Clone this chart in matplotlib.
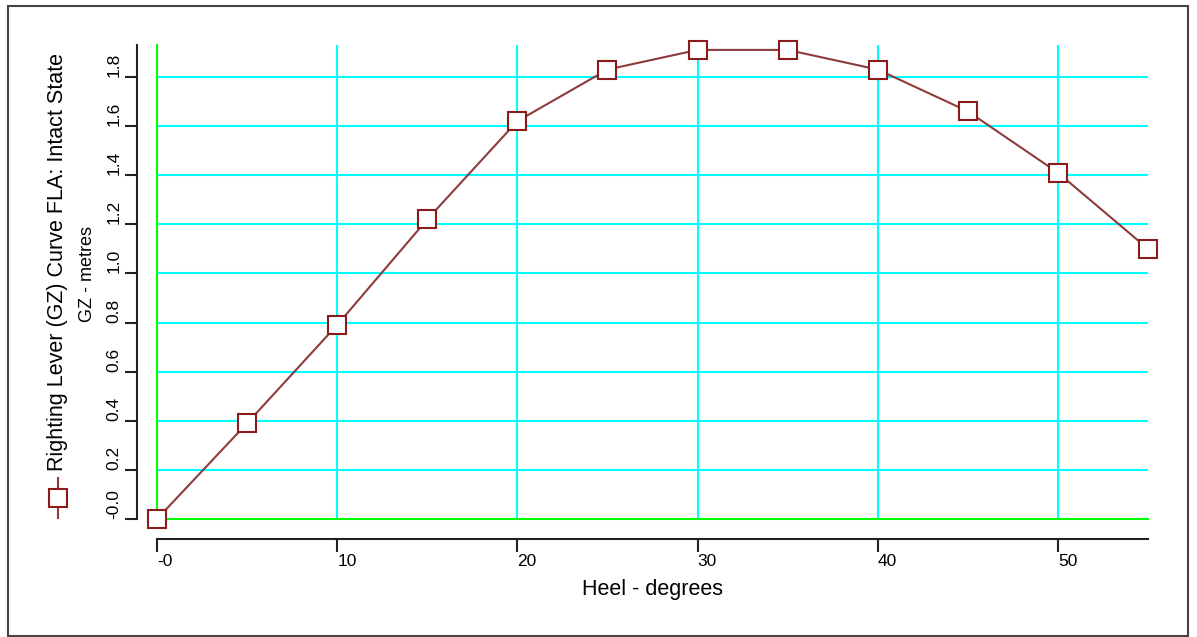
import matplotlib
matplotlib.use("Agg")
import matplotlib.pyplot as plt
from matplotlib.lines import Line2D
from matplotlib.patches import Rectangle

plt.rcParams['font.family'] = ['Liberation Sans', 'DejaVu Sans']

# --- data ---
heel = [0, 5, 10, 15, 20, 25, 30, 35, 40, 45, 50, 55]
gz = [0.0, 0.39, 0.79, 1.22, 1.62, 1.83, 1.91, 1.91, 1.83, 1.66, 1.41, 1.10]
xticks = [0, 10, 20, 30, 40, 50]
xticklabels = ['-0', '10', '20', '30', '40', '50']
yticks = [0.0, 0.2, 0.4, 0.6, 0.8, 1.0, 1.2, 1.4, 1.6, 1.8]
yticklabels = ['-0.0', '0.2', '0.4', '0.6', '0.8', '1.0', '1.2', '1.4', '1.6', '1.8']

W, H = 1197, 637
fig = plt.figure(figsize=(W / 100, H / 100), dpi=100)
ax = fig.add_axes([157 / W, (H - 519) / H, (1148 - 157) / W, 474 / H])
ax.set_xlim(0, 55)
ax.set_ylim(0, 1.93)

# grid
for x in xticks[1:]:
    ax.axvline(x, color='#00ffff', lw=1.5, zorder=1)
for y in yticks[1:]:
    ax.axhline(y, color='#00ffff', lw=1.5, zorder=1)
ax.axvline(0, color='#00ff00', lw=1.5, zorder=2, clip_on=False)
ax.axhline(0, color='#00ff00', lw=1.5, zorder=2, clip_on=False)

ax.plot(heel, gz, color='#8e3b3b', lw=1.5, marker='s', markersize=13,
        markerfacecolor='white', markeredgecolor='#8b1a1a', markeredgewidth=1.5,
        clip_on=False, zorder=5)

# axes styling (spines pushed out by 20 px)
for s in ['top', 'right']:
    ax.spines[s].set_visible(False)
for s in ['left', 'bottom']:
    ax.spines[s].set_position(('outward', 14.4))
    ax.spines[s].set_color('#222222')
    ax.spines[s].set_linewidth(1.5)

ax.set_xticks(xticks)
ax.set_xticklabels(xticklabels, ha='left', fontsize=12.5)
ax.set_yticks(yticks)
ax.set_yticklabels(yticklabels, rotation=90, va='bottom', fontsize=12.5)
ax.tick_params(axis='both', length=9, width=1.5, color='#222222', pad=2)

# labels
fig.text(652 / W, 1 - 589 / H, 'Heel - degrees', ha='center', va='center', fontsize=15.5)
fig.text(58 / W, 1 - 471 / H, 'Righting Lever (GZ) Curve FLA: Intact State',
         rotation=90, ha='center', va='bottom', fontsize=15.5)
fig.text(88 / W, 1 - 274 / H, 'GZ - metres', rotation=90, ha='center', va='center', fontsize=13)

# legend symbol next to the label
fig.add_artist(Line2D([58 / W, 58 / W], [1 - 478 / H, 1 - 518 / H],
                      transform=fig.transFigure, color='#8e3b3b', lw=1.5))
fig.add_artist(Line2D([58 / W], [1 - 498 / H], transform=fig.transFigure,
                      marker='s', markersize=13, markerfacecolor='white',
                      markeredgecolor='#8b1a1a', markeredgewidth=1.5))

# frame around the picture
fig.add_artist(Rectangle((8 / W, 1 / H), 1180 / W, 630 / H, transform=fig.transFigure,
                         fill=False, edgecolor='#444444', lw=1.5))

fig.savefig('out.png', dpi=100)
